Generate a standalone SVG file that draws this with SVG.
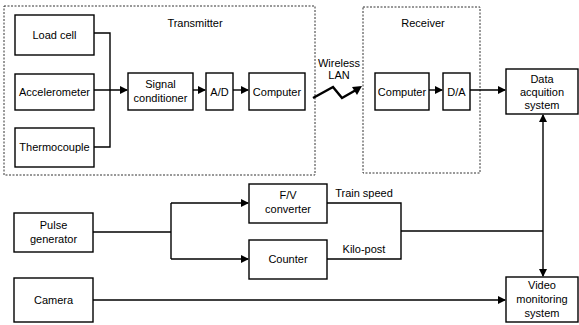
<svg xmlns="http://www.w3.org/2000/svg" width="579" height="325" viewBox="0 0 579 325">
<style>
.b{fill:#fff;stroke:#000;stroke-width:1.4}
.g{fill:none;stroke:#333;stroke-width:1;stroke-dasharray:2,1.5}
.t{font-family:"Liberation Sans",Arial,sans-serif;font-size:11px;fill:#000;text-anchor:middle}
.l{fill:none;stroke:#000;stroke-width:1.4}
</style>
<defs>
<marker id="a" markerWidth="8" markerHeight="8" refX="7" refY="4" orient="auto" markerUnits="userSpaceOnUse">
<path d="M0,0 L8,4 L0,8 Z" fill="#000"/>
</marker>
</defs>
<g id="transmitter"><rect class="g" x="4" y="6" width="311" height="169"/><text class="t" x="195" y="27">Transmitter</text></g>
<g id="receiver"><rect class="g" x="363" y="7" width="117" height="166"/><text class="t" x="423" y="27">Receiver</text></g>
<g id="loadcell"><rect class="b" x="15" y="15" width="79" height="40"/><text class="t" x="54.5" y="39">Load cell</text></g>
<g id="accelerometer"><rect class="b" x="15" y="74" width="79" height="36"/><text class="t" x="54.5" y="96">Accelerometer</text></g>
<g id="thermocouple"><rect class="b" x="15" y="128" width="79" height="39"/><text class="t" x="54.5" y="151">Thermocouple</text></g>
<g id="signal"><rect class="b" x="128" y="73" width="65" height="37"/><text class="t" x="160.5" y="88">Signal</text><text class="t" x="160.5" y="102">conditioner</text></g>
<g id="ad"><rect class="b" x="206" y="73" width="27" height="37"/><text class="t" x="219.5" y="96">A/D</text></g>
<g id="computer1"><rect class="b" x="249" y="73" width="56" height="37"/><text class="t" x="277" y="96">Computer</text></g>
<g id="computer2"><rect class="b" x="375" y="73" width="54" height="37"/><text class="t" x="402" y="96">Computer</text></g>
<g id="da"><rect class="b" x="443" y="73" width="27" height="37"/><text class="t" x="456.5" y="96">D/A</text></g>
<g id="daq"><rect class="b" x="506" y="69" width="72" height="45"/><text class="t" x="542" y="83">Data</text><text class="t" x="542" y="96">acquition</text><text class="t" x="542" y="109">system</text></g>
<g id="pulse"><rect class="b" x="14" y="213" width="79" height="39"/><text class="t" x="53.5" y="229">Pulse</text><text class="t" x="53.5" y="243">generator</text></g>
<g id="camera"><rect class="b" x="14" y="278" width="79" height="44"/><text class="t" x="53.5" y="304">Camera</text></g>
<g id="fv"><rect class="b" x="249" y="184" width="78" height="39"/><text class="t" x="288" y="199">F/V</text><text class="t" x="288" y="213">converter</text></g>
<g id="counter"><rect class="b" x="249" y="240" width="78" height="39"/><text class="t" x="288" y="263">Counter</text></g>
<g id="video"><rect class="b" x="506" y="277" width="72" height="45"/><text class="t" x="542" y="289">Video</text><text class="t" x="542" y="303">monitoring</text><text class="t" x="542" y="317">system</text></g>
<g id="labels"><text class="t" x="339" y="67">Wireless</text><text class="t" x="339" y="79">LAN</text><text class="t" x="364" y="197">Train speed</text><text class="t" x="364" y="253">Kilo-post</text></g>
<g id="connectors">
<path class="l" d="M94,33 H110 V147 H94"/>
<path class="l" d="M94,90 H127" marker-end="url(#a)"/>
<path class="l" d="M193,90 H205" marker-end="url(#a)"/>
<path class="l" d="M233,90 H248" marker-end="url(#a)"/>
<path fill="none" stroke="#000" stroke-width="2.5" d="M313,98 L333,87 L342,98 L356,90"/>
<path d="M362,86 L352,87 L357,95 Z" fill="#000"/>
<path class="l" d="M429,90 H442" marker-end="url(#a)"/>
<path class="l" d="M470,90 H505" marker-end="url(#a)"/>
<path class="l" d="M93,232 H171"/>
<path class="l" d="M171,203 V259"/>
<path class="l" d="M171,203 H248" marker-end="url(#a)"/>
<path class="l" d="M171,259 H248" marker-end="url(#a)"/>
<path class="l" d="M327,203 H401 V259 H327"/>
<path class="l" d="M401,231 H543"/>
<path class="l" d="M543,150 V115" marker-end="url(#a)"/>
<path class="l" d="M543,150 V276" marker-end="url(#a)"/>
<path class="l" d="M93,300 H505" marker-end="url(#a)"/>
</g>
</svg>
